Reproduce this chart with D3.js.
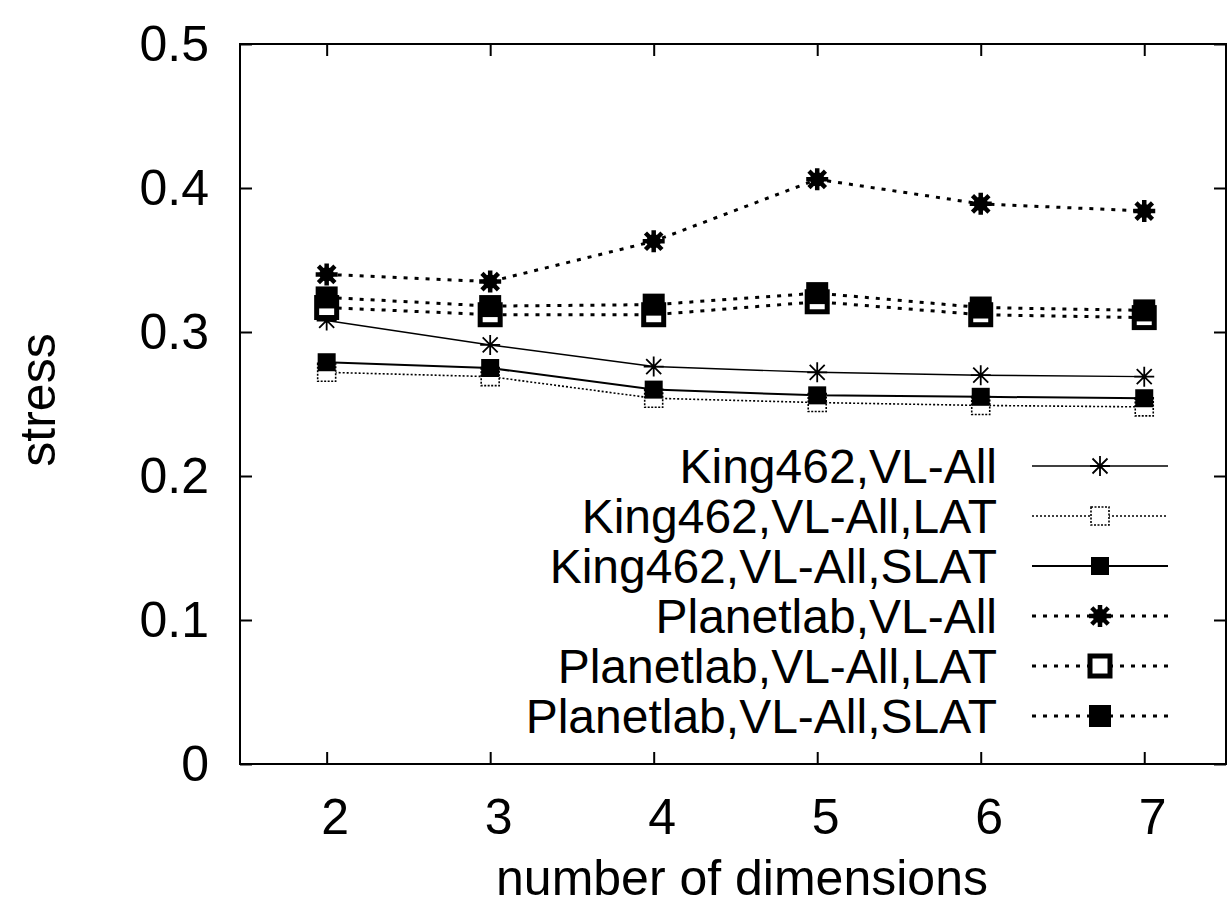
<!DOCTYPE html>
<html>
<head>
<meta charset="utf-8">
<script src="https://cdn.jsdelivr.net/npm/d3@7"></script>
<style>
  body { margin: 0; background: #fff; }
  svg { display: block; font-family: "Liberation Sans", Arial, sans-serif; }
</style>
</head>
<body>
<div id="main-container"></div>
<script>
const WIDTH = 1229;
const HEIGHT = 919;
const LEFT = 240, RIGHT = 1226, TOP = 44, BOTTOM = 764;
const FONT_SIZE = 50;
const LEGEND_FONT_SIZE = 48;

// data
const DIMENSIONS = [2, 3, 4, 5, 6, 7];
const KING_ALL = [0.308, 0.291, 0.276, 0.272, 0.270, 0.269];
const KING_LAT = [0.272, 0.269, 0.254, 0.251, 0.249, 0.248];
const KING_SLAT = [0.279, 0.275, 0.260, 0.256, 0.255, 0.254];
const PLANET_ALL = [0.340, 0.335, 0.363, 0.406, 0.389, 0.384];
const PLANET_LAT = [0.317, 0.312, 0.312, 0.321, 0.312, 0.310];
const PLANET_SLAT = [0.324, 0.318, 0.319, 0.327, 0.317, 0.315];
const Y_TICKS = [0, 0.1, 0.2, 0.3, 0.4, 0.5];
const SERIES_NAMES = [
  'King462,VL-All', 'King462,VL-All,LAT', 'King462,VL-All,SLAT',
  'Planetlab,VL-All', 'Planetlab,VL-All,LAT', 'Planetlab,VL-All,SLAT'
];

const SERIES = [
  { name: SERIES_NAMES[0], values: KING_ALL, dash: null, width: 1.4, marker: 'star', size: 10, bold: false },
  { name: SERIES_NAMES[1], values: KING_LAT, dash: '2,2', width: 1.6, marker: 'open', size: 9, bold: false },
  { name: SERIES_NAMES[2], values: KING_SLAT, dash: null, width: 2, marker: 'filled', size: 9, bold: false },
  { name: SERIES_NAMES[3], values: PLANET_ALL, dash: '4,7', width: 3, marker: 'star', size: 11, bold: true },
  { name: SERIES_NAMES[4], values: PLANET_LAT, dash: '4,7', width: 3, marker: 'open', size: 10, bold: true },
  { name: SERIES_NAMES[5], values: PLANET_SLAT, dash: '4,7', width: 3, marker: 'filled', size: 11, bold: true }
];

const X_SCALE = d3.scaleLinear().domain([1.47, 7.5]).range([LEFT, RIGHT]);
const Y_SCALE = d3.scaleLinear().domain([0, 0.5]).range([BOTTOM, TOP]);

const SVG = d3.select('#main-container')
  .append('svg')
  .attr('width', WIDTH)
  .attr('height', HEIGHT);

// frame
SVG.append('rect')
  .attr('x', LEFT).attr('y', TOP)
  .attr('width', RIGHT - LEFT).attr('height', BOTTOM - TOP)
  .attr('fill', 'none').attr('stroke', '#000').attr('stroke-width', 2);

const styleAxis = g => {
  g.select('.domain').remove();
  g.selectAll('line').attr('stroke', '#000').attr('stroke-width', 2);
  g.selectAll('text').attr('font-size', FONT_SIZE).attr('fill', '#000')
    .attr('font-family', '"Liberation Sans", Arial, sans-serif');
};

SVG.append('g')
  .attr('transform', `translate(${LEFT},0)`)
  .call(d3.axisLeft(Y_SCALE).tickValues(Y_TICKS).tickSize(-12).tickSizeOuter(0)
    .tickPadding(31).tickFormat(d3.format('.1~f')))
  .call(styleAxis);

SVG.append('g')
  .attr('transform', `translate(${RIGHT},0)`)
  .call(d3.axisRight(Y_SCALE).tickValues(Y_TICKS).tickSize(-12).tickSizeOuter(0).tickFormat(''))
  .call(styleAxis);

SVG.append('g')
  .attr('transform', `translate(0,${BOTTOM})`)
  .call(d3.axisBottom(X_SCALE).tickValues(DIMENSIONS).tickSize(-12).tickSizeOuter(0)
    .tickPadding(34).tickFormat(d3.format('d')))
  .call(styleAxis)
  .selectAll('text').attr('dx', 8);

SVG.append('g')
  .attr('transform', `translate(0,${TOP})`)
  .call(d3.axisTop(X_SCALE).tickValues(DIMENSIONS).tickSize(-12).tickSizeOuter(0).tickFormat(''))
  .call(styleAxis);

// axis titles
SVG.append('text')
  .attr('x', (LEFT + RIGHT) / 2 + 9)
  .attr('y', 895)
  .attr('text-anchor', 'middle')
  .attr('font-size', FONT_SIZE)
  .text('number of dimensions');

SVG.append('text')
  .attr('transform', 'translate(55,400) rotate(-90)')
  .attr('text-anchor', 'middle')
  .attr('font-size', FONT_SIZE)
  .text('stress');

// markers
const drawMarker = (g, s, x, y) => {
  const r = s.size;
  if (s.marker === 'star') {
    const path = d3.path();
    path.moveTo(x - r, y); path.lineTo(x + r, y);
    path.moveTo(x, y - r); path.lineTo(x, y + r);
    path.moveTo(x - r * 0.75, y - r * 0.75); path.lineTo(x + r * 0.75, y + r * 0.75);
    path.moveTo(x - r * 0.75, y + r * 0.75); path.lineTo(x + r * 0.75, y - r * 0.75);
    g.append('path').attr('d', path.toString())
      .attr('stroke', '#000').attr('stroke-width', s.bold ? 4.5 : 1.8).attr('fill', 'none');
    if (s.bold) g.append('circle').attr('cx', x).attr('cy', y).attr('r', r * 0.65).attr('fill', '#000');
  } else if (s.marker === 'open') {
    g.append('rect')
      .attr('x', x - r).attr('y', y - r).attr('width', 2 * r).attr('height', 2 * r)
      .attr('fill', '#fff').attr('stroke', '#000')
      .attr('stroke-width', s.bold ? 5 : 1.6)
      .attr('stroke-dasharray', s.bold ? null : '2,1.5');
  } else {
    g.append('rect')
      .attr('x', x - r).attr('y', y - r).attr('width', 2 * r).attr('height', 2 * r)
      .attr('fill', '#000');
  }
};

const LINE = d3.line()
  .x((_, i) => X_SCALE(DIMENSIONS[i]))
  .y(d => Y_SCALE(d));

const PLOT = SVG.append('g');
SERIES.forEach(s => {
  PLOT.append('path')
    .datum(s.values)
    .attr('d', LINE)
    .attr('fill', 'none')
    .attr('stroke', '#000')
    .attr('stroke-width', s.width)
    .attr('stroke-dasharray', s.dash);
});
SERIES.forEach(s => {
  const g = PLOT.append('g');
  s.values.forEach((v, i) => drawMarker(g, s, X_SCALE(DIMENSIONS[i]), Y_SCALE(v)));
});

// legend
const LEGEND_TEXT_X = 997, LEGEND_Y0 = 466, LEGEND_STEP = 50;
const LEGEND_LINE_X0 = 1032, LEGEND_LINE_X1 = 1168, LEGEND_MARK_X = 1100;
const LEGEND = SVG.append('g');
SERIES.forEach((s, i) => {
  const y = LEGEND_Y0 + i * LEGEND_STEP;
  LEGEND.append('text')
    .attr('x', LEGEND_TEXT_X)
    .attr('y', y + 17)
    .attr('text-anchor', 'end')
    .attr('font-size', LEGEND_FONT_SIZE)
    .text(s.name);
  LEGEND.append('line')
    .attr('x1', LEGEND_LINE_X0).attr('x2', LEGEND_LINE_X1)
    .attr('y1', y).attr('y2', y)
    .attr('stroke', '#000')
    .attr('stroke-width', s.width)
    .attr('stroke-dasharray', s.dash);
  drawMarker(LEGEND, s, LEGEND_MARK_X, y);
});
</script>
</body>
</html>
